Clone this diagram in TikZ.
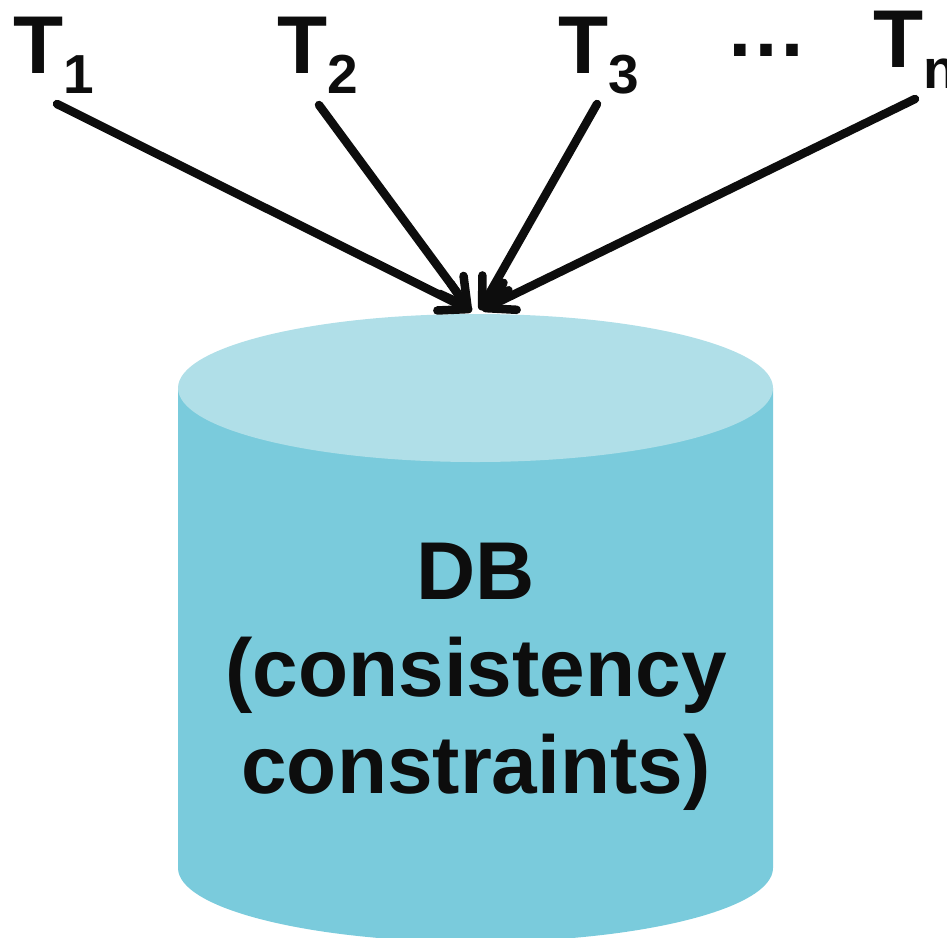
\documentclass[tikz,border=0pt]{standalone}
\usepackage{fontspec}
\setmainfont{Liberation Sans}
\usetikzlibrary{arrows.meta}
\definecolor{cyltop}{HTML}{B0DFE8}
\definecolor{cylside}{HTML}{7ACBDC}
\definecolor{ink}{HTML}{0D0D0D}
\tikzset{
  tlabel/.style={anchor=base west, inner sep=0pt, text=ink, font=\fontsize{82}{82}\selectfont\bfseries},
  conn/.style={draw=ink, line width=8.5pt, line cap=round, line join=round,
    -{Straight Barb[length=27pt, width=30pt, line cap=round, line join=round]}},
  dbtext/.style={inner sep=0pt, text=ink, align=center, font=\fontsize{82}{97}\selectfont\bfseries}
}
\newcommand{\mysub}[1]{\raisebox{-20pt}{\fontsize{55}{55}\selectfont #1}}
\begin{document}
\begin{tikzpicture}[x=1pt,y=-1pt]
\useasboundingbox (0,0) rectangle (947,937);
\clip (0,0) rectangle (947,937);
% cylinder
\fill[cylside] (178,388) -- (178,868) arc[start angle=180, end angle=0, x radius=297.5, y radius=74] -- (773,388) -- cycle;
\fill[cyltop] (475.5,388) ellipse[x radius=297.5, y radius=74];
% labels
\node[tlabel] (t1) at (13,73) {T\mysub{1}};
\node[tlabel] (t2) at (277,73) {T\mysub{2}};
\node[tlabel] (t3) at (558,73) {T\mysub{3}};
\node[tlabel] (dots) at (725,56) {…};
\node[tlabel] (tn) at (873,67) {T\raisebox{-21pt}{\fontsize{55}{55}\selectfont n}};
% text in cylinder
\node[dbtext, anchor=base] (db) at (476,793) {DB\\(consistency\\constraints)};
% connector ends
\coordinate (s1) at (57,104);
\coordinate (s2) at (319,105);
\coordinate (s3) at (597,104);
\coordinate (sn) at (915,99);
\coordinate (e1) at (472,311);
\coordinate (e2) at (470,310);
\coordinate (e3) at (480,310);
\coordinate (en) at (482,310);
\draw[conn] (s1) -- (e1);
\draw[conn] (s2) -- (e2);
\draw[conn] (s3) -- (e3);
\draw[conn] (sn) -- (en);
\end{tikzpicture}
\end{document}
